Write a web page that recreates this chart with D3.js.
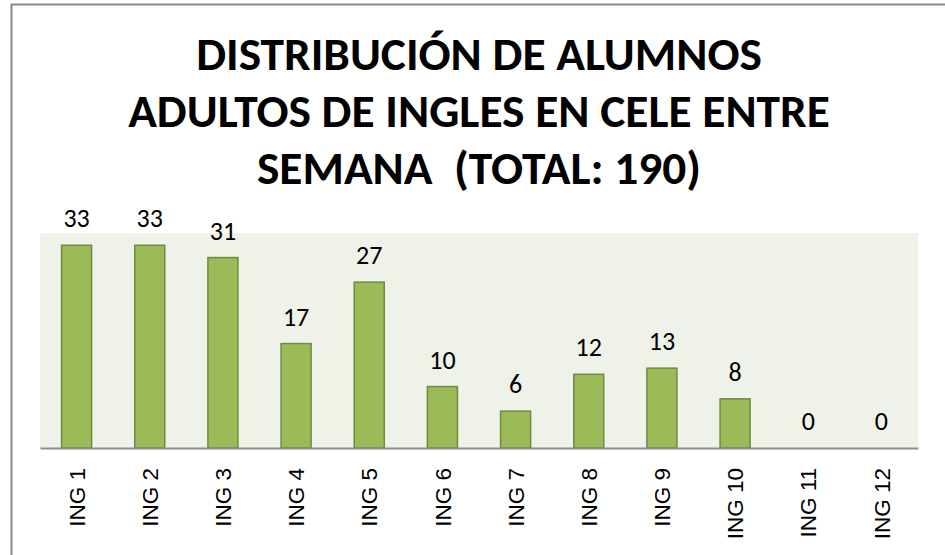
<!DOCTYPE html>
<html>
<head>
<meta charset="utf-8">
<script src="https://cdnjs.cloudflare.com/ajax/libs/d3/7.8.5/d3.min.js"></script>
<style>
  body { margin: 0; background: #fff; }
  svg { display: block; }
</style>
</head>
<body>
<div id="chart-container"></div>
<script>
// data
var categories = ['ING 1', 'ING 2', 'ING 3', 'ING 4', 'ING 5', 'ING 6',
                  'ING 7', 'ING 8', 'ING 9', 'ING 10', 'ING 11', 'ING 12'];
var alumnos = [33, 33, 31, 17, 27, 10, 6, 12, 13, 8, 0, 0];
var titleLines = ['DISTRIBUCIÓN DE ALUMNOS',
                  'ADULTOS DE INGLES EN CELE ENTRE',
                  'SEMANA  (TOTAL: 190)'];
var yMax = 35;

var W = 945, H = 555;
var plot = { left: 40, right: 918, top: 233, bottom: 448 };

var svg = d3.select('#chart-container')
    .append('svg')
        .attr('width', W)
        .attr('height', H);

// outer chart frame
svg.append('rect')
    .attr('x', 11.5).attr('y', 4.5)
    .attr('width', W + 20).attr('height', H + 20)
    .attr('fill', '#fff')
    .attr('stroke', '#898989')
    .attr('stroke-width', 2);

// title, sized so that the widest line fits the width seen in the picture
var titleFont = "Carlito, 'Open Sans', sans-serif";
var title = svg.append('g');
var titleText = title.selectAll('text')
    .data(titleLines)
    .enter().append('text')
        .attr('x', 479)
        .attr('y', function (d, i) { return 70 + i * 57; })
        .attr('text-anchor', 'middle')
        .attr('font-family', titleFont)
        .attr('font-weight', 'bold')
        .attr('font-size', 40)
        .attr('fill', '#000')
        .style('white-space', 'pre')
        .text(function (d) { return d; });
var w2 = titleText.nodes()[1].getComputedTextLength();
var fs = 40 * 702 / w2;
titleText.attr('font-size', fs);

var x = d3.scaleBand()
    .domain(categories)
    .range([plot.left, plot.right])
    .paddingInner(0.59)
    .paddingOuter(0.295);

var y = d3.scaleLinear()
    .domain([0, yMax])
    .range([plot.bottom, plot.top]);

// plot background
svg.append('rect')
    .attr('x', plot.left).attr('y', y(yMax))
    .attr('width', plot.right - plot.left)
    .attr('height', y(0) - y(yMax))
    .attr('fill', '#eff2e8');

var bars = svg.append('g');
bars.selectAll('rect')
    .data(alumnos)
    .enter().append('rect')
        .attr('x', function (d, i) { return x(categories[i]); })
        .attr('y', function (d) { return y(d); })
        .attr('width', x.bandwidth())
        .attr('height', function (d) { return y(0) - y(d); })
        .attr('fill', '#9bbb59')
        .attr('stroke', '#71893f')
        .attr('stroke-width', 1.5);

// value labels
svg.append('g').selectAll('text')
    .data(alumnos)
    .enter().append('text')
        .attr('x', function (d, i) { return x(categories[i]) + x.bandwidth() / 2; })
        .attr('y', function (d) { return y(d) - 18; })
        .attr('text-anchor', 'middle')
        .attr('font-family', "Carlito, 'Open Sans', sans-serif")
        .attr('font-size', 26)
        .attr('fill', '#000')
        .text(function (d) { return d; });

// x axis
var xAxis = d3.axisBottom(x).tickSize(0).tickPadding(0);
var gx = svg.append('g')
    .attr('transform', 'translate(0,' + plot.bottom + ')')
    .call(xAxis);
gx.select('.domain')
    .attr('stroke', '#8c8c8c')
    .attr('stroke-width', 2);
gx.selectAll('.tick text')
    .attr('font-family', "'Liberation Sans', Arial, sans-serif")
    .attr('font-size', 22.5)
    .attr('fill', '#000')
    .attr('text-anchor', 'end')
    .attr('transform', 'translate(0,20) rotate(-90)')
    .attr('x', 0)
    .attr('y', 0)
    .attr('dy', '0.36em');
</script>
</body>
</html>
